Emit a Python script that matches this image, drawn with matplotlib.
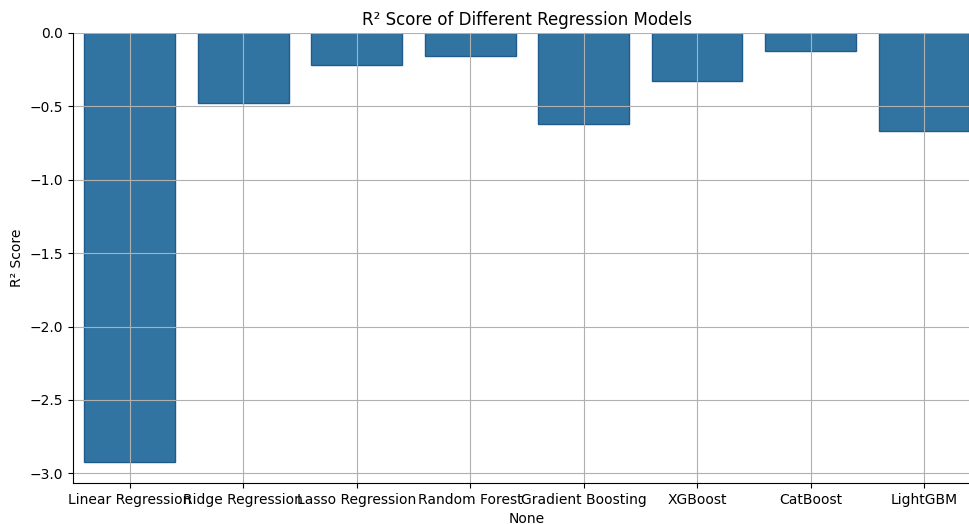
import matplotlib.pyplot as plt

models = ["Linear Regression", "Ridge Regression", "Lasso Regression", "Random Forest",
          "Gradient Boosting", "XGBoost", "CatBoost", "LightGBM"]
r2_scores = [-2.92, -0.48, -0.22, -0.16, -0.62, -0.33, -0.12, -0.67]

fig = plt.figure(figsize=(9.69, 5.24), dpi=100)
# the right side of the axes runs past the image edge, as in the reference
ax = fig.add_axes([73 / 969, 1 - 483 / 524, (980.7 - 73) / 969, (483 - 33) / 524])

positions = list(range(len(models)))
ax.bar(positions, r2_scores, width=0.8, color="#3274a1", edgecolor="#1f5b8c", linewidth=1)

ax.set_xlim(-0.5, len(models) - 0.5)
ax.set_xticks(positions)
ax.set_xticklabels(models)
ax.grid(True)
ax.spines["top"].set_visible(False)
ax.spines["right"].set_visible(False)

ax.set_title("R² Score of Different Regression Models", pad=6)
ax.set_xlabel("None", labelpad=3.5)
ax.set_ylabel("R² Score")

fig.savefig("out.png", dpi=100)
